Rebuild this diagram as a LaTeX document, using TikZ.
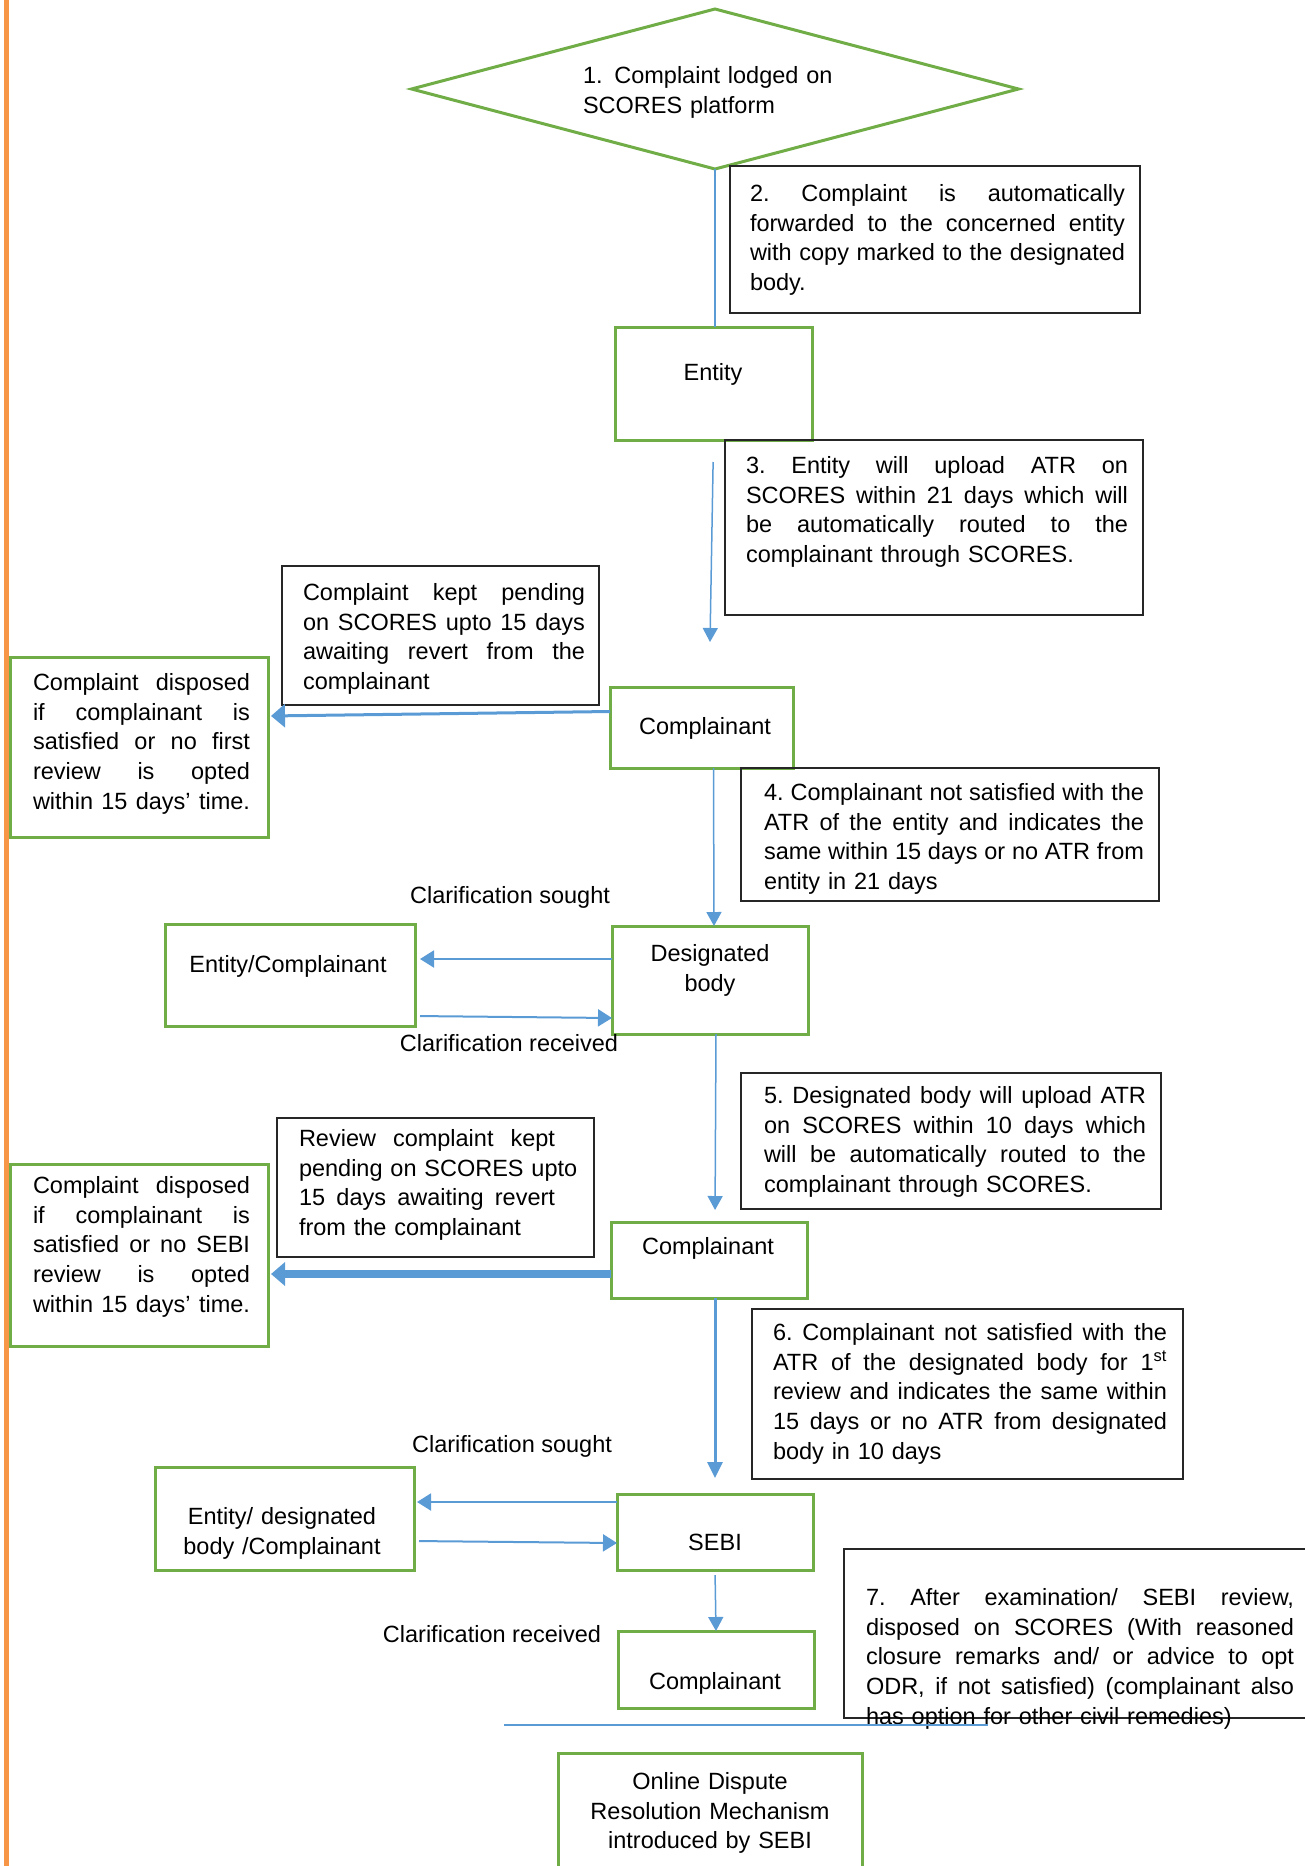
\documentclass[tikz,border=0pt]{standalone}
\usepackage{fontspec}
\setmainfont{Liberation Sans}
\usetikzlibrary{shapes.geometric,arrows.meta}
\definecolor{ogreen}{HTML}{70AD47}
\definecolor{oblue}{HTML}{5B9BD5}
\definecolor{oorange}{HTML}{F79646}
\newcommand{\jlast}[1]{\leavevmode\hbox to \hsize{\spaceskip=0.25em plus 1fil minus 0.05em\xspaceskip=\spaceskip\relax #1}}
\newcommand{\jl}[1]{\jlast{#1}\\}
\newcommand{\fsz}{\fontsize{23.5}{29.7}\selectfont}
\tikzset{
 gbox/.style={draw=ogreen, line width=3pt, inner sep=0pt, outer sep=0pt, anchor=north west},
 kbox/.style={draw=black!85, line width=1.4pt, inner sep=0pt, outer sep=0pt, anchor=north west},
 txt/.style={inner sep=0pt, outer sep=0pt, font=\fsz, text=black},
 para/.style={txt, anchor=base west, align=left, text width=#1},
 ctr/.style={txt, anchor=base, align=center, text width=#1},
 lbl/.style={txt, anchor=base},
 bl/.style={draw=oblue, line width=1.5pt},
 tarrow/.style={bl, -{Triangle[width=15pt,length=14pt]}},
 larrow/.style={draw=oblue, line width=2pt, -{Triangle[width=17pt,length=14pt]}},
 harrowa/.style={draw=oblue, line width=3pt, -{Triangle[width=23pt,length=14pt]}},
 harrowb/.style={draw=oblue, line width=8pt, -{Triangle[width=23pt,length=14pt]}},
 varrowc/.style={draw=oblue, line width=3pt, -{Triangle[width=15pt,length=16pt]}},
}
\begin{document}
\begin{tikzpicture}[x=1pt,y=-1pt]
\useasboundingbox (0,0) rectangle (1305,1866);
\fill[oorange] (3.5,0) rectangle (9,1866);

% diamond
\node[draw=ogreen, line width=3pt, diamond, aspect=3.79, minimum width=607pt, minimum height=160pt, inner sep=0pt, outer sep=0pt] (d1) at (715,89) {};
\node[para=260pt] (t1) at (583,83.5) {1. Complaint lodged on\\SCORES platform};

% boxes
\node[kbox, minimum width=410pt, minimum height=147pt] (b2) at (730,166) {};
\node[para=375pt] (t2) at (750,201.5) {\jl{2. Complaint is automatically}\jl{forwarded to the concerned entity}\jl{with copy marked to the designated}body.};

\node[gbox, minimum width=197pt, minimum height=113pt] (entity) at (615,327) {};
\node[lbl] (tentity) at (713,380) {Entity};

\node[kbox, minimum width=418pt, minimum height=175pt] (b3) at (725,440) {};
\node[para=382pt] (t3) at (746,473.5) {\jl{3. Entity will upload ATR on}\jl{SCORES within 21 days which will}\jl{be automatically routed to the}complainant through SCORES.};

\node[kbox, minimum width=317pt, minimum height=139pt] (pend1) at (282,566) {};
\node[para=282pt] (tpend1) at (303,600.5) {\jl{Complaint kept pending}\jl{on SCORES upto 15 days}\jl{awaiting revert from the}complainant};

\node[gbox, minimum width=258pt, minimum height=180pt] (disp1) at (10,657) {};
\node[para=217pt] (tdisp1) at (33,690.5) {\jl{Complaint disposed}\jl{if complainant is}\jl{satisfied or no first}\jl{review is opted}\jlast{within 15 days’ time.}};

\node[gbox, minimum width=183pt, minimum height=81pt] (comp1) at (610,687) {};
\node[lbl] (tcomp1) at (705,734.5) {Complainant};

\node[kbox, minimum width=418pt, minimum height=133pt] (b4) at (741,768) {};
\node[para=380pt] (t4) at (764,800.5) {\jl{4. Complainant not satisfied with the}\jl{ATR of the entity and indicates the}\jl{same within 15 days or no ATR from}entity in 21 days};

\node[lbl] (cs1) at (510,903.5) {Clarification sought};

\node[gbox, minimum width=250pt, minimum height=102pt] (ec) at (165,924) {};
\node[lbl] (tec) at (288,972.5) {Entity/Complainant};

\node[gbox, minimum width=196pt, minimum height=108pt] (db) at (612,926) {};
\node[ctr=200pt] (tdb) at (710,961.5) {Designated\\body};

\node[lbl] (cr1) at (509,1051.5) {Clarification received};

\node[kbox, minimum width=420pt, minimum height=136pt] (b5) at (741,1073) {};
\node[para=382pt] (t5) at (764,1103.5) {\jl{5. Designated body will upload ATR}\jl{on SCORES within 10 days which}\jl{will be automatically routed to the}complainant through SCORES.};

\node[kbox, minimum width=317pt, minimum height=139pt] (rev) at (277,1118) {};
\node[para=256pt] (trev) at (299,1146.5) {\jl{Review complaint kept}\mbox{pending on SCORES upto}\\\jl{15 days awaiting revert}from the complainant};

\node[gbox, minimum width=258pt, minimum height=182pt] (disp2) at (10,1164) {};
\node[para=217pt] (tdisp2) at (33,1193.5) {\jl{Complaint disposed}\jl{if complainant is}\jl{satisfied or no SEBI}\jl{review is opted}\jlast{within 15 days’ time.}};

\node[gbox, minimum width=196pt, minimum height=76pt] (comp2) at (611,1222) {};
\node[lbl] (tcomp2) at (708,1254.5) {Complainant};

\node[kbox, minimum width=431pt, minimum height=170pt] (b6) at (752,1309) {};
\node[para=394pt] (t6) at (773,1340.5) {\jl{6. Complainant not satisfied with the}\jl{ATR of the designated body for 1\textsuperscript{st}}\jl{review and indicates the same within}\jl{15 days or no ATR from designated}body in 10 days};

\node[lbl] (cs2) at (512,1452.5) {Clarification sought};

\node[gbox, minimum width=259pt, minimum height=103pt] (edc) at (155,1467) {};
\node[ctr=260pt] (tedc) at (282,1524.5) {Entity/ designated\\body /Complainant};

\node[gbox, minimum width=196pt, minimum height=76pt] (sebi) at (617,1494) {};
\node[lbl] (tsebi) at (715,1550.5) {SEBI};

\node[lbl] (cr2) at (492,1642.5) {Clarification received};

\node[gbox, minimum width=196pt, minimum height=77pt] (comp3) at (618,1631) {};
\node[lbl] (tcomp3) at (715,1689.5) {Complainant};

\node[kbox, minimum width=490pt, minimum height=169pt] (b7) at (844,1549) {};
\node[para=428pt] (t7) at (866,1605.5) {\jl{7. After examination/ SEBI review,}\jl{disposed on SCORES (With reasoned}\jl{closure remarks and/ or advice to opt}\jl{ODR, if not satisfied) (complainant also}has option for other civil remedies)};

\node[gbox, minimum width=304pt, minimum height=140pt] (odr) at (558,1753) {};
\node[ctr=320pt] (todr) at (710,1789.5) {Online Dispute\\Resolution Mechanism\\introduced by SEBI};

% connectors
\draw[bl] (d1.south) -- (d1.south |- entity.north);
\coordinate (c1top) at (710,642);
\draw[tarrow, shorten <=22pt] (entity.south) -- (c1top);
\draw[harrowa, shorten >=3pt] ([yshift=16pt]comp1.west) -- ([yshift=31pt]disp1.east);
\draw[tarrow] ([xshift=12pt]comp1.south) -- ([xshift=4pt]db.north);
\draw[larrow, shorten >=5pt] ([yshift=21pt]db.west) -- ([yshift=16pt]ec.east);
\draw[larrow, shorten <=5pt] ([yshift=-41pt]ec.east) -- ([yshift=-38pt]db.west);
\draw[tarrow, shorten >=12pt] ([xshift=6pt]db.south) -- ([xshift=6pt]comp2.north);
\draw[harrowb, shorten >=3pt] ([yshift=-14pt]comp2.west) -- ([yshift=-19pt]disp2.east);
\draw[varrowc, shorten >=16pt] ([xshift=6pt]comp2.south) -- ([xshift=0pt]sebi.north);
\draw[larrow, shorten >=3pt] ([yshift=30pt]sebi.west) -- ([yshift=16.5pt]edc.east);
\draw[larrow, shorten <=5pt] ([yshift=-22.5pt]edc.east) -- ([yshift=-11pt]sebi.west);
\draw[tarrow, shorten <=5pt] (sebi.south) -- (comp3.north);
\coordinate (hl1) at (504,1725);
\coordinate (hl2) at (988,1725);
\draw[bl] (hl1) -- (hl2);
\end{tikzpicture}
\end{document}
